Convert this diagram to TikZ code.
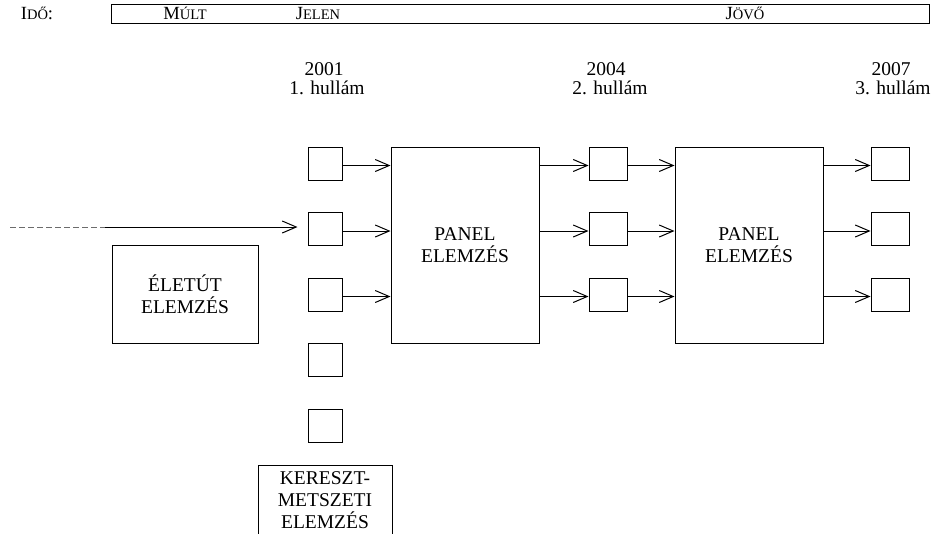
\documentclass[tikz,border=0pt]{standalone}
\usepackage{fontspec}
\setmainfont{Liberation Serif}
\usetikzlibrary{arrows.meta}
\newcommand{\smc}[1]{{\fontsize{14.5}{16}\selectfont #1}}
\begin{document}
\begin{tikzpicture}[x=1pt,y=-1pt,
  line width=1pt,
  every node/.style={font=\fontsize{19.5}{22}\selectfont},
  sbox/.style={draw,minimum width=34pt,minimum height=33pt,inner sep=0pt},
  bigbox/.style={draw,minimum width=148pt,minimum height=196pt,inner sep=0pt,align=center},
  lbl/.style={inner sep=0pt,align=center},
  arr/.style={-{Straight Barb[length=14pt,width=12pt]}},
  toplbl/.style={inner sep=0pt,anchor=base},
  barlbl/.style={inner sep=0pt,anchor=base,font=\fontsize{18.6}{22}\selectfont}
]
\useasboundingbox (0,0) rectangle (931,533);
\clip (0,0) rectangle (931,533);
% top bar
\draw (111,4) rectangle (929,23);
\node[barlbl] (ido) at (37,19) {I\smc{DŐ}:};
\node[barlbl] (mult) at (185,19) {M\smc{ÚLT}};
\node[barlbl] (jelen) at (318,19) {J\smc{ELEN}};
\node[barlbl] (jovo) at (745,19) {J\smc{ÖVŐ}};
% year labels
\node[toplbl] (y1) at (324,75) {2001};
\node[toplbl] (h1) at (327,94) {1. hullám};
\node[toplbl] (y2) at (606,75) {2004};
\node[toplbl] (h2) at (610,94) {2. hullám};
\node[toplbl] (y3) at (891,75) {2007};
\node[toplbl] (h3) at (893,94) {3. hullám};
% column 1 boxes
\node[sbox] (a1) at (325,163.5) {};
\node[sbox] (a2) at (325,229) {};
\node[sbox] (a3) at (325,294.5) {};
\node[sbox] (a4) at (325,360) {};
\node[sbox] (a5) at (325,425.5) {};
% column 2 boxes
\node[sbox, minimum width=38pt] (b1) at (608,163.5) {};
\node[sbox, minimum width=38pt] (b2) at (608,229) {};
\node[sbox, minimum width=38pt] (b3) at (608,294.5) {};
% column 3 boxes
\node[sbox, minimum width=38pt] (c1) at (890,163.5) {};
\node[sbox, minimum width=38pt] (c2) at (890,229) {};
\node[sbox, minimum width=38pt] (c3) at (890,294.5) {};
% panels
\node[bigbox] (p1) at (465,245) {PANEL\\ELEMZÉS};
\node[bigbox] (p2) at (749,245) {PANEL\\ELEMZÉS};
% eletut
\node[draw,minimum width=146pt,minimum height=98pt,inner sep=0pt,align=center] (el) at (185,294) {ÉLETÚT\\ELEMZÉS};
% kereszt box
\draw (258,465) rectangle (392,560);
\node[lbl,anchor=north] (ker) at (325,471.5) {KERESZT-\\METSZETI\\ELEMZÉS};
% input line
\coordinate (s0) at (10,227);
\coordinate (s1) at (105,227);
\draw[dash pattern=on 6pt off 3pt,gray!85!black] (s0) -- (s1);
\draw[arr] (s1) -- ([xshift=-10pt]a2.west |- s1);
% arrows
\foreach \n in {1,2,3}{
  \draw[arr] ([yshift=-2pt]a\n.east) -- ([yshift=-2pt]a\n.east -| p1.west);
  \draw[arr] ([yshift=-2pt]b\n.west -| p1.east) -- ([yshift=-2pt]b\n.west);
  \draw[arr] ([yshift=-2pt]b\n.east) -- ([yshift=-2pt]b\n.east -| p2.west);
  \draw[arr] ([yshift=-2pt]c\n.west -| p2.east) -- ([yshift=-2pt]c\n.west);
}
\end{tikzpicture}
\end{document}
